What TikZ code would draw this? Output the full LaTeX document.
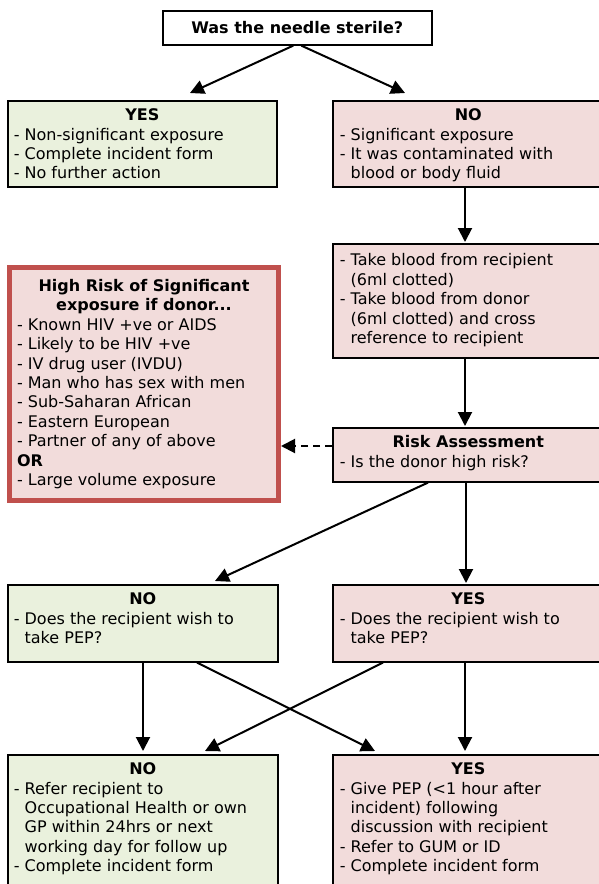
\documentclass[tikz,border=0pt]{standalone}
\usepackage{fontspec}
\setmainfont{DejaVu Sans}
\usetikzlibrary{arrows.meta,calc}
\definecolor{gfill}{RGB}{234,241,221}
\definecolor{pfill}{RGB}{242,220,219}
\definecolor{redb}{RGB}{192,80,77}
\newcommand\bxt[3]{\parbox[c][#2][t]{#1}{\raggedright #3}}
\newcommand\bxhead[1]{{\centering\bfseries #1\par}}
\newcommand\bxind{\hphantom{- }}
\begin{document}
\begin{tikzpicture}[x=1pt,y=-1pt,
  bx/.style={draw=black, line width=1.6pt, inner xsep=7pt, inner ysep=8pt, anchor=north west, font=\fontsize{16}{19.4}\selectfont},
  arr/.style={line width=2pt, -{Triangle[length=14pt,width=14pt]}},
  darr/.style={arr, dash pattern=on 7pt off 5pt}]
\useasboundingbox (0,0) rectangle (599,884);

\node[bx, inner sep=0pt, minimum width=269pt, minimum height=34pt, font=\fontsize{16}{19.4}\selectfont\bfseries] (top) at (162,10) {Was the needle sterile?};

\node[bx, fill=gfill, inner xsep=6pt] (yes1) at (7,100) {\bxt{257pt}{70pt}{\bxhead{YES}
- Non-significant exposure\\
- Complete incident form\\
- No further action}};

\node[bx, fill=pfill] (no1) at (332,100) {\bxt{257pt}{70pt}{\bxhead{NO}
- Significant exposure\\
- It was contaminated with\\
\bxind blood or body fluid}};

\node[bx, fill=pfill, inner ysep=10pt] (blood) at (332,243) {\bxt{257pt}{94pt}{- Take blood from recipient\\
\bxind (6ml clotted)\\
- Take blood from donor\\
\bxind (6ml clotted) and cross\\
\bxind reference to recipient}};

\node[bx, fill=pfill, draw=redb, line width=5pt, inner xsep=7.5pt, inner ysep=11.8pt] (high) at (7,265) {\bxt{254pt}{209.4pt}{\bxhead{High Risk of Significant\\ exposure if donor...}
- Known HIV +ve or AIDS\\
- Likely to be HIV +ve\\
- IV drug user (IVDU)\\
- Man who has sex with men\\
- Sub-Saharan African\\
- Eastern European\\
- Partner of any of above\\
\textbf{OR}\\
- Large volume exposure}};

\node[bx, fill=pfill] (risk) at (332,427) {\bxt{257pt}{38pt}{\bxhead{Risk Assessment}
- Is the donor high risk?}};

\node[bx, fill=gfill, inner xsep=6pt] (no2) at (7,584) {\bxt{258pt}{61pt}{\bxhead{NO}
- Does the recipient wish to\\
\bxind take PEP?}};

\node[bx, fill=pfill] (yes2) at (332,584) {\bxt{257pt}{61pt}{\bxhead{YES}
- Does the recipient wish to\\
\bxind take PEP?}};

\node[bx, fill=gfill, inner xsep=6pt] (no3) at (7,754) {\bxt{258pt}{144pt}{\bxhead{NO}
- Refer recipient to\\
\bxind Occupational Health or own\\
\bxind GP within 24hrs or next\\
\bxind working day for follow up\\
- Complete incident form}};

\node[bx, fill=pfill] (yes3) at (332,754) {\bxt{257pt}{144pt}{\bxhead{YES}
- Give PEP (<1 hour after\\
\bxind incident) following\\
\bxind discussion with recipient\\
- Refer to GUM or ID\\
- Complete incident form}};

\draw[arr] ($(top.south)+(-4,0)$) -- ($(yes1.north west)+(183,-7)$);
\draw[arr] ($(top.south)+(4,0)$) -- ($(no1.north west)+(73,-7)$);
\draw[arr] ($(no1.south west)+(133,0)$) -- ($(blood.north west)+(133,-1)$);
\draw[arr] ($(blood.south west)+(133,0)$) -- ($(risk.north west)+(133,-1)$);
\coordinate (rk) at ($(risk.north west)+(0,19)$);
\draw[darr] (rk) -- (high.east |- rk);
\draw[arr] ($(risk.south west)+(96,0)$) -- ($(no2.north west)+(208,-3)$);
\draw[arr] ($(risk.south west)+(134,0)$) -- ($(yes2.north west)+(134,-1)$);
\draw[arr] ($(no2.south west)+(136,0)$) -- ($(no3.north west)+(136,-3)$);
\draw[arr] ($(no2.south west)+(190,0)$) -- ($(yes3.north west)+(43,-3)$);
\draw[arr] ($(yes2.south west)+(51,0)$) -- ($(no3.north west)+(198,-3)$);
\draw[arr] ($(yes2.south west)+(133,0)$) -- ($(yes3.north west)+(133,-3)$);
\end{tikzpicture}
\end{document}
